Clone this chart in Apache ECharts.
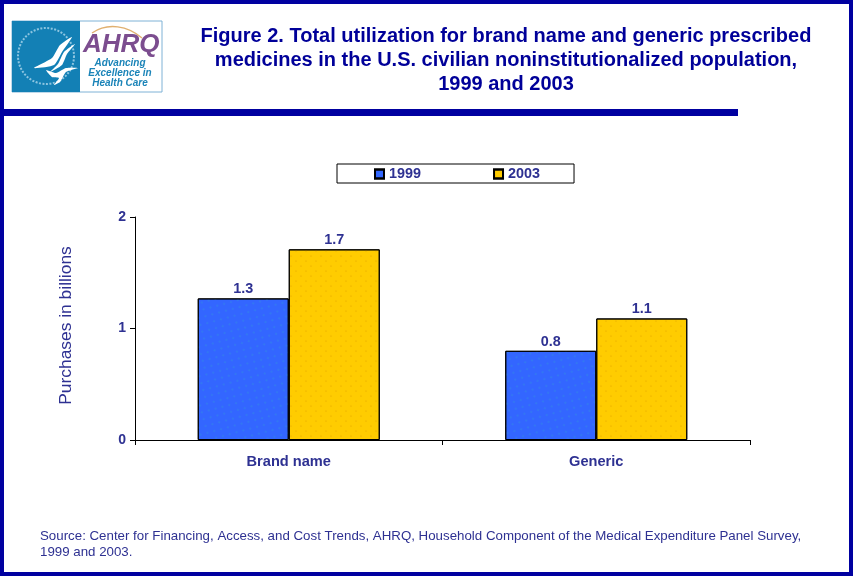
<!DOCTYPE html>
<html>
<head>
<meta charset="utf-8">
<style>
  html, body { margin: 0; padding: 0; background: #fff; }
  #main { width: 853px; height: 576px; }
</style>
<script src="https://cdn.jsdelivr.net/npm/echarts@6/dist/echarts.min.js"></script>
</head>
<body>
<div id="main"></div>
<script>
const categories = ['Brand name', 'Generic']
const values1999 = [1.27, 0.8]
const values2003 = [1.71, 1.09]
const yTicks = [0, 1, 2]

const titleLines = [
  'Figure 2. Total utilization for brand name and generic prescribed',
  'medicines in the U.S. civilian noninstitutionalized population,',
  '1999 and 2003'
]
const sourceLines = [
  'Source: Center for Financing, Access, and Cost Trends, AHRQ, Household Component of the Medical Expenditure Panel Survey,',
  '1999 and 2003.'
]

const NAVY = '#000099'
const INK = '#2e3192'
const FONT = '"Liberation Sans", Arial, sans-serif'

// speckle on the bars
function speckle(color) {
  return { color: color, symbol: 'circle', symbolSize: 0.6, dashArrayX: [[2, 8], [0, 5, 2, 3]], dashArrayY: [2, 3] }
}

function barSeries(name, data, color, dot) {
  return {
    name: name,
    type: 'bar',
    data: data,
    barWidth: 91,
    barGap: 0,
    itemStyle: { color: color, borderColor: '#000', borderWidth: 1, decal: speckle(dot) },
    label: {
      show: true,
      position: 'top',
      distance: 2,
      color: INK,
      fontFamily: FONT,
      fontWeight: 'bold',
      fontSize: 14.4,
      formatter: p => p.value.toFixed(1)
    }
  }
}

function wing(points) {
  return { type: 'polygon', shape: { points: points, smooth: 0.2 }, style: { fill: '#fff' } }
}

// logo and frame
const logo = [
  { type: 'rect', shape: { x: 12, y: 21, width: 150, height: 71 }, style: { fill: '#fff', stroke: '#7fb2d6', lineWidth: 1 } },
  { type: 'rect', shape: { x: 12, y: 21, width: 68, height: 71 }, style: { fill: '#1380b5' } },
  { type: 'circle', shape: { cx: 46, cy: 56, r: 28 }, style: { fill: 'none', stroke: '#8cc4e0', lineWidth: 2, lineDash: [2, 1.5] } },
  wing([[72, 37], [60, 45], [52, 58], [34, 68], [54, 65], [62, 52]]),
  wing([[75, 44], [64, 52], [58, 64], [50, 72], [62, 65], [67, 54]]),
  wing([[46, 70], [56, 73], [66, 68], [78, 68], [66, 72], [60, 82], [54, 85], [59, 78], [52, 77]]),
  { type: 'bezierCurve', shape: { x1: 92, y1: 33, cpx1: 108, cpy1: 22, cpx2: 128, cpy2: 26, x2: 142, y2: 38 }, style: { fill: 'none', stroke: '#e0b070', lineWidth: 1.5 } },
  { type: 'text', x: 83, y: 32, style: { text: 'AHRQ', fill: '#7c4d8f', font: 'italic bold 26px ' + FONT } },
  { type: 'text', x: 120, y: 58, style: { text: 'Advancing', fill: '#1b84b8', font: 'italic bold 10px ' + FONT, align: 'center' } },
  { type: 'text', x: 120, y: 68, style: { text: 'Excellence in', fill: '#1b84b8', font: 'italic bold 10px ' + FONT, align: 'center' } },
  { type: 'text', x: 120, y: 78, style: { text: 'Health Care', fill: '#1b84b8', font: 'italic bold 10px ' + FONT, align: 'center' } }
]

const titleText = titleLines.map((line, i) => ({
  type: 'text', x: 506, y: 26 + i * 24,
  style: { text: line, fill: NAVY, font: 'bold 20px ' + FONT, align: 'center' }
}))

const sourceText = sourceLines.map((line, i) => ({
  type: 'text', x: 40, y: 530 + i * 16,
  style: { text: line, fill: INK, font: '13.3px ' + FONT }
}))

const chart = echarts.init(document.getElementById('main'), null, { renderer: 'canvas' })
chart.setOption({
  backgroundColor: '#fff',
  animation: false,
  textStyle: { fontFamily: FONT },
  aria: { enabled: true, decal: { show: true } },
  grid: { left: 135, right: 103, top: 217, bottom: 136 },
  legend: {
    left: 337,
    top: 164,
    icon: 'rect',
    itemWidth: 9,
    itemHeight: 9,
    itemGap: 72,
    padding: [3, 34, 2, 37],
    borderColor: '#000',
    borderWidth: 1,
    textStyle: { color: INK, fontFamily: FONT, fontWeight: 'bold', fontSize: 14.4, padding: [2, 0, 0, 0] }
  },
  xAxis: {
    type: 'category',
    data: categories,
    axisLine: { lineStyle: { color: '#000', width: 1 } },
    axisTick: { show: true, length: 5, alignWithLabel: false, lineStyle: { color: '#000' } },
    axisLabel: { color: INK, fontFamily: FONT, fontWeight: 'bold', fontSize: 14.6, margin: 14 }
  },
  yAxis: {
    type: 'value',
    min: yTicks[0],
    max: yTicks[yTicks.length - 1],
    interval: 1,
    name: 'Purchases in billions',
    nameLocation: 'middle',
    nameGap: 60,
    nameTextStyle: { color: INK, fontFamily: FONT, fontSize: 17.4, padding: [0, 0, 0, 6] },
    axisLine: { show: true, lineStyle: { color: '#000', width: 1 } },
    axisTick: { show: true, length: 5, lineStyle: { color: '#000' } },
    splitLine: { show: false },
    axisLabel: { color: INK, fontFamily: FONT, fontWeight: 'bold', fontSize: 14, margin: 9, padding: [3, 0, 0, 0] }
  },
  series: [
    barSeries('1999', values1999, '#3366ff', '#33aacc'),
    barSeries('2003', values2003, '#ffcc00', '#e0a000')
  ],
  graphic: [
    { type: 'rect', silent: true, z: 50, shape: { x: 2, y: 2, width: 849, height: 572 }, style: { fill: 'none', stroke: '#0000a0', lineWidth: 4 } },
    { type: 'rect', silent: true, z: 50, shape: { x: 0, y: 109, width: 738, height: 7 }, style: { fill: '#0000a0' } }
  ].concat(logo, titleText, sourceText)
})
</script>
</body>
</html>
